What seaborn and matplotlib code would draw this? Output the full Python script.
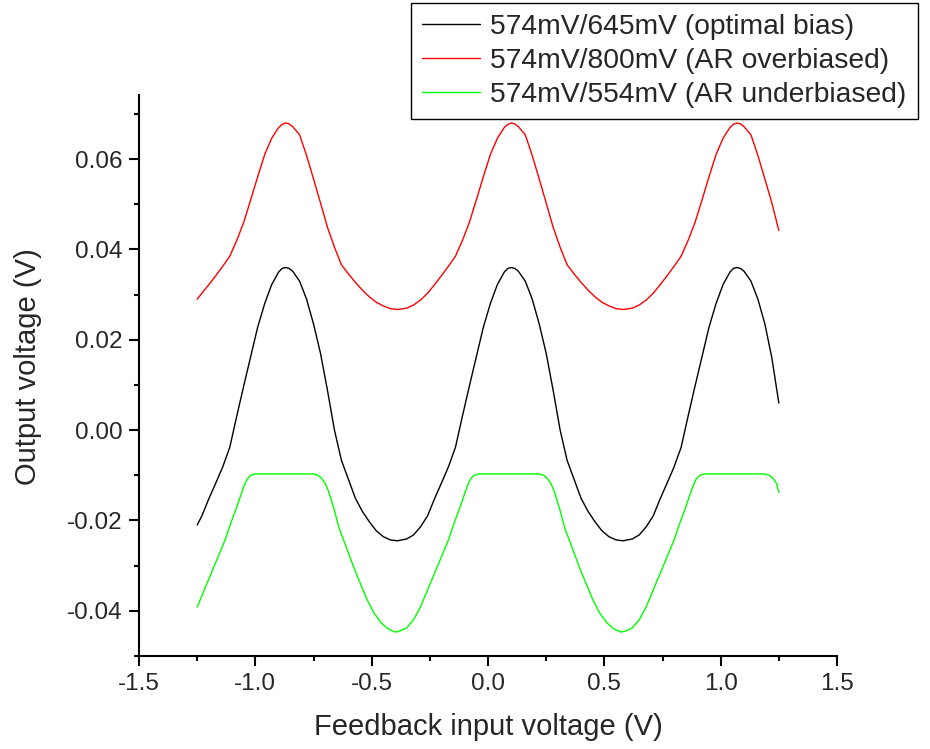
import pandas as pd
import numpy as np
import matplotlib
matplotlib.use("Agg")
import matplotlib.pyplot as plt
from matplotlib.ticker import MultipleLocator, FormatStrFormatter
import seaborn as sns

# ── Data ──────────────────────────────────────────────────
opt_x = [-1.25, -1.23, -1.20, -1.17, -1.14, -1.11, -1.08, -1.05, -1.02, -0.99,
         -0.96, -0.93, -0.90, -0.885, -0.87, -0.855, -0.84, -0.81, -0.78, -0.75, -0.72, -0.69,
         -0.66, -0.63, -0.60, -0.57, -0.54, -0.51, -0.48, -0.45, -0.42, -0.39,
         -0.35, -0.32, -0.29, -0.26, -0.23, -0.20, -0.17, -0.14, -0.11, -0.08,
         -0.05, -0.02, 0.01, 0.04, 0.07, 0.085, 0.10, 0.115, 0.13, 0.16, 0.19, 0.22,
         0.25, 0.28, 0.31, 0.34, 0.37, 0.40, 0.43, 0.46, 0.49, 0.52,
         0.55, 0.58, 0.62, 0.65, 0.68, 0.71, 0.74, 0.77, 0.80, 0.83,
         0.86, 0.89, 0.92, 0.95, 0.98, 1.01, 1.04, 1.055, 1.07, 1.085, 1.10, 1.13,
         1.16, 1.19, 1.22, 1.25]
opt_y = [-0.0210, -0.0190, -0.0152, -0.0117, -0.0081, -0.0038, 0.0031, 0.0098, 0.0163, 0.0228,
         0.0280, 0.0322, 0.0350, 0.0358, 0.0360, 0.0358, 0.0352, 0.0330, 0.0290, 0.0235, 0.0170, 0.0088,
         0.0000, -0.0067, -0.0109, -0.0151, -0.0180, -0.0203, -0.0223, -0.0236, -0.0243, -0.0245,
         -0.0241, -0.0232, -0.0214, -0.0190, -0.0152, -0.0117, -0.0081, -0.0038, 0.0031, 0.0098,
         0.0163, 0.0228, 0.0280, 0.0322, 0.0350, 0.0358, 0.0360, 0.0358, 0.0352, 0.0330, 0.0290, 0.0235,
         0.0170, 0.0088, 0.0000, -0.0067, -0.0109, -0.0151, -0.0180, -0.0203, -0.0223, -0.0236,
         -0.0243, -0.0245, -0.0241, -0.0232, -0.0214, -0.0190, -0.0152, -0.0117, -0.0081, -0.0038,
         0.0031, 0.0098, 0.0163, 0.0228, 0.0280, 0.0322, 0.0350, 0.0358, 0.0360, 0.0358, 0.0352, 0.0330,
         0.0290, 0.0235, 0.0160, 0.0060]

over_x = [-1.25, -1.23, -1.20, -1.17, -1.14, -1.11, -1.08, -1.05, -1.02, -0.99,
          -0.96, -0.93, -0.90, -0.885, -0.87, -0.855, -0.84, -0.81, -0.78, -0.75, -0.72, -0.69,
          -0.66, -0.63, -0.60, -0.57, -0.54, -0.51, -0.48, -0.45, -0.42, -0.39,
          -0.35, -0.32, -0.29, -0.26, -0.23, -0.20, -0.17, -0.14, -0.11, -0.08,
          -0.05, -0.02, 0.01, 0.04, 0.07, 0.085, 0.10, 0.115, 0.13, 0.16, 0.19, 0.22,
          0.25, 0.28, 0.31, 0.34, 0.37, 0.40, 0.43, 0.46, 0.49, 0.52,
          0.55, 0.58, 0.62, 0.65, 0.68, 0.71, 0.74, 0.77, 0.80, 0.83,
          0.86, 0.89, 0.92, 0.95, 0.98, 1.01, 1.04, 1.055, 1.07, 1.085, 1.10, 1.13,
          1.16, 1.19, 1.22, 1.25]
over_y = [0.0290, 0.0303, 0.0322, 0.0342, 0.0363, 0.0385, 0.0420, 0.0460, 0.0510, 0.0561,
          0.0610, 0.0646, 0.0670, 0.0677, 0.0680, 0.0678, 0.0672, 0.0654, 0.0608, 0.0556, 0.0503, 0.0449,
          0.0405, 0.0366, 0.0346, 0.0327, 0.0310, 0.0295, 0.0283, 0.0275, 0.0269, 0.0267,
          0.0270, 0.0277, 0.0288, 0.0303, 0.0322, 0.0342, 0.0363, 0.0385, 0.0420, 0.0460,
          0.0510, 0.0561, 0.0610, 0.0646, 0.0670, 0.0677, 0.0680, 0.0678, 0.0672, 0.0654, 0.0608, 0.0556,
          0.0503, 0.0449, 0.0405, 0.0366, 0.0346, 0.0327, 0.0310, 0.0295, 0.0283, 0.0275,
          0.0269, 0.0267, 0.0270, 0.0277, 0.0288, 0.0303, 0.0322, 0.0342, 0.0363, 0.0385,
          0.0420, 0.0460, 0.0510, 0.0561, 0.0610, 0.0646, 0.0670, 0.0677, 0.0680, 0.0678, 0.0672, 0.0654,
          0.0608, 0.0556, 0.0503, 0.0442]

under_x = [-1.25, -1.22, -1.19, -1.16, -1.13, -1.11, -1.08, -1.05, -1.035, -1.02,
           -1.00, -0.75, -0.73, -0.715, -0.70, -0.685, -0.66, -0.64, -0.61, -0.58,
           -0.55, -0.52, -0.49, -0.46, -0.43, -0.40, -0.38, -0.35, -0.32, -0.29,
           -0.26, -0.23, -0.20, -0.17, -0.15, -0.12, -0.09, -0.075, -0.06, -0.04,
           0.22, 0.24, 0.255, 0.27, 0.285, 0.31, 0.33, 0.36, 0.39, 0.42,
           0.45, 0.48, 0.51, 0.54, 0.57, 0.59, 0.62, 0.65, 0.68, 0.71,
           0.74, 0.77, 0.80, 0.82, 0.85, 0.88, 0.895, 0.91, 0.93, 1.19,
           1.21, 1.225, 1.24, 1.25]
under_y = [-0.0392, -0.0354, -0.0317, -0.0280, -0.0243, -0.0212, -0.0170, -0.0125, -0.0108, -0.0100,
           -0.0097, -0.0097, -0.0100, -0.0107, -0.0118, -0.0136, -0.0178, -0.0217, -0.0258, -0.0300,
           -0.0338, -0.0375, -0.0405, -0.0426, -0.0440, -0.0447, -0.0445, -0.0438, -0.0420, -0.0391,
           -0.0354, -0.0317, -0.0280, -0.0243, -0.0212, -0.0170, -0.0125, -0.0108, -0.0100, -0.0097,
           -0.0097, -0.0100, -0.0107, -0.0118, -0.0136, -0.0178, -0.0217, -0.0258, -0.0300, -0.0338,
           -0.0375, -0.0405, -0.0426, -0.0440, -0.0447, -0.0445, -0.0438, -0.0420, -0.0391, -0.0354,
           -0.0317, -0.0280, -0.0243, -0.0212, -0.0170, -0.0125, -0.0108, -0.0100, -0.0097, -0.0097,
           -0.0100, -0.0107, -0.0118, -0.0138]

labels = ["574mV/645mV (optimal bias)",
          "574mV/800mV (AR overbiased)",
          "574mV/554mV (AR underbiased)"]
colors = ["#000000", "#ff0000", "#00ff00"]

# ── Style ─────────────────────────────────────────────────
sns.set_style("ticks")
plt.rcParams["font.family"] = ["Liberation Sans", "DejaVu Sans"]
plt.rcParams["axes.unicode_minus"] = False

fig = plt.figure(figsize=(9.30, 7.49), dpi=100)
ax = fig.add_axes([0.1495, 0.1242, 0.7505, 0.7490])

series = [(opt_x, opt_y), (over_x, over_y), (under_x, under_y)]
for (xs, ys), lab, col in zip(series, labels, colors):
    d = pd.DataFrame({"x": xs, "y": ys})
    sns.lineplot(data=d, x="x", y="y", ax=ax, color=col, lw=1.0,
                 sort=False, estimator=None, label=lab, legend=False)

ax.set_xlim(-1.5, 1.5)
ax.set_ylim(-0.05, 0.0742)
ax.xaxis.set_major_locator(MultipleLocator(0.5))
ax.xaxis.set_minor_locator(MultipleLocator(0.25))
ax.yaxis.set_major_locator(MultipleLocator(0.02))
ax.yaxis.set_minor_locator(MultipleLocator(0.01))
ax.xaxis.set_major_formatter(FormatStrFormatter("%.1f"))
ax.yaxis.set_major_formatter(FormatStrFormatter("%.2f"))

sns.despine(ax=ax)
for sp in ["left", "bottom"]:
    ax.spines[sp].set_linewidth(1.5)
    ax.spines[sp].set_color("black")
ax.tick_params(which="major", length=7, width=1.5, labelsize=17.5, pad=5, color="black")
ax.tick_params(which="minor", length=3.5, width=1.5, color="black")

ax.set_xlabel("Feedback input voltage (V)", fontsize=21, labelpad=13)
ax.set_ylabel("Output voltage (V)", fontsize=21)
ax.yaxis.set_label_coords(-0.139, 0.515)

handles, labs = ax.get_legend_handles_labels()
leg = fig.legend(handles, labs, loc="upper right",
                 bbox_to_anchor=(918 / 930, 1 - 3 / 749), borderaxespad=0,
                 fontsize=20.3, frameon=True, fancybox=False, handlelength=2.05,
                 handletextpad=0.38, labelspacing=0.27, borderpad=0.4)
leg.get_frame().set_edgecolor("black")
leg.get_frame().set_linewidth(1.0)
leg.get_frame().set_alpha(1)

plt.savefig("out.png", dpi=100)
